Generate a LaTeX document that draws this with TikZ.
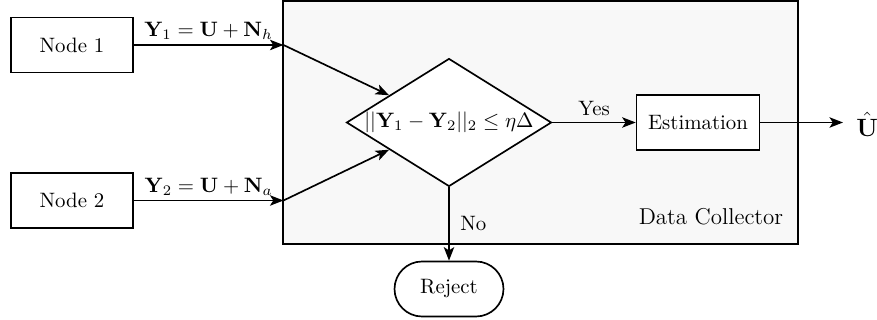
\documentclass[tikz,border=0pt]{standalone}
\usetikzlibrary{shapes.geometric,shapes.misc,arrows.meta,calc}
\begin{document}
\begin{tikzpicture}[x=0.48pt,y=-0.48pt,
  box/.style={draw,thick,fill=white,minimum width=58.6pt,minimum height=26.4pt,inner sep=0pt},
  arr/.style={thick,-{Stealth[length=6.5pt,width=5pt,inset=1.6pt]}},
  lbl/.style={inner sep=1pt}]
\useasboundingbox (0,0) rectangle (877,320);
% container
\node[draw,thick,fill={rgb,255:red,248;green,248;blue,248},minimum width=247.2pt,minimum height=116.6pt,inner sep=0pt] (dc) at (540.5,122.5) {};
\node[lbl,font=\fontsize{11}{13}\selectfont] (dclab) at (711,217) {Data Collector};
% nodes
\node[box] (n1) at (72,45) {Node 1};
\node[box] (n2) at (72,200.5) {Node 2};
\coordinate (j1) at (283.5,45);
\coordinate (j2) at (283.5,200.5);
% decision
\node[draw,thick,fill=white,shape=diamond,minimum width=98.4pt,minimum height=61.4pt,inner sep=0pt] (dec) at (449,122.5) {};
\node[inner sep=0pt] (dectext) at (449,122.5) {$||\mathbf{Y}_1-\mathbf{Y}_2||_2\leq \eta\Delta$};
\node[box,minimum width=59pt] (est) at (698,122.5) {Estimation};
\node[draw,thick,fill=white,rounded rectangle,minimum width=52.3pt,minimum height=26.4pt,inner sep=0pt] (rej) at (449,289) {Reject};
\coordinate (out) at (843,122.5);
\node[inner sep=0pt,anchor=west,font=\fontsize{12}{14}\selectfont] (uhat) at (856,124.5) {$\hat{\mathbf{U}}$};
% connectors
\draw[arr] (n1.east) -- node[above,lbl,yshift=1pt] (l1) {$\mathbf{Y}_1=\mathbf{U}+\mathbf{N}_h$} (j1);
\draw[arr] (n2.east) -- node[above,lbl,yshift=1pt] (l2) {$\mathbf{Y}_2=\mathbf{U}+\mathbf{N}_a$} (j2);
\draw[arr] (j1) -- ($(dec.west)!0.42!(dec.north)$);
\draw[arr] (j2) -- ($(dec.west)!0.42!(dec.south)$);
\draw[arr] (dec.east) -- node[above,lbl,yshift=2pt] (ly) {Yes} (est.west);
\draw[arr] (est.east) -- (out);
\draw[arr] (dec.south) -- node[pos=0.5,right,lbl,xshift=4pt] (ln) {No} (rej.north);
\end{tikzpicture}
\end{document}
